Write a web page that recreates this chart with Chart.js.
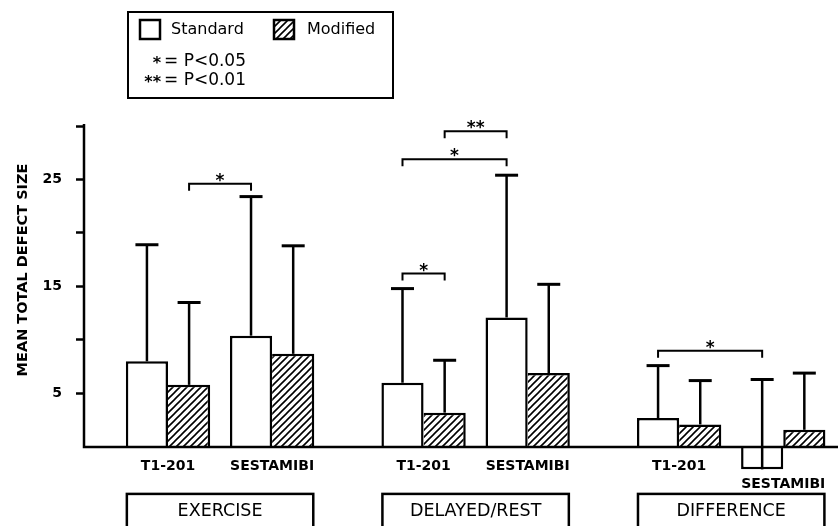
<!DOCTYPE html>
<html>
<head>
<meta charset="utf-8">
<script src="https://cdn.jsdelivr.net/npm/chart.js@4.4.1/dist/chart.umd.min.js"></script>
<style>
  html, body { margin: 0; padding: 0; background: #fff; }
  #wrap { position: relative; width: 838px; height: 526px; }
</style>
</head>
<body>
<div id="wrap"><canvas id="chart"></canvas></div>
<script>
// Groups and agents along the x axis
const GROUPS = ['EXERCISE', 'DELAYED/REST', 'DIFFERENCE'];
const AGENTS = ['T1-201', 'SESTAMIBI'];
const SERIES = ['Standard', 'Modified'];

// Mean total defect size (+ SD), order: EX T1, EX SESTA, DR T1, DR SESTA, DIFF T1, DIFF SESTA
const STANDARD_MEAN = [8.0, 10.4, 6.0, 12.1, 2.7, -2.1];
const STANDARD_SD   = [10.9, 13.0, 8.8, 13.3, 4.9, 8.4];
const MODIFIED_MEAN = [5.8, 8.7, 3.2, 6.9, 2.1, 1.6];
const MODIFIED_SD   = [7.7, 10.1, 4.9, 8.3, 4.1, 5.3];

// Y axis ticks
const Y_TICKS = [0, 5, 10, 15, 20, 25, 30];
const Y_TICK_LABELS = ['', '5', '', '15', '', '25', ''];

// Significance brackets; bars within a group: 0 T1 std, 1 T1 mod, 2 SESTA std, 3 SESTA mod
const SIG_GROUP = [0, 1, 1, 1, 2];
const SIG_FROM  = [1, 0, 0, 1, 0];
const SIG_TO    = [2, 1, 2, 2, 2];
const SIG_LEVEL = [24.6, 16.2, 26.9, 29.5, 9.0];
const SIG_LABEL = ['*', '*', '*', '**', '*'];

// Key for the significance marks
const P_STARS = ['*', '**'];
const P_TEXT  = ['= P<0.05', '= P<0.01'];

// ---- layout helpers ----
const GROUP_STEP = 2.455;               // spacing between group starts, in pair units
const X_MIN = -0.807, X_MAX = 6.436;
const xPos = i => Math.floor(i / 2) * GROUP_STEP + (i % 2);

const FONT = 'DejaVu Sans';

function makeHatch() {
  const s = 7;
  const c = document.createElement('canvas');
  c.width = s; c.height = s;
  const g = c.getContext('2d');
  g.fillStyle = '#fff';
  g.fillRect(0, 0, s, s);
  g.strokeStyle = '#000';
  g.lineWidth = 1.6;
  g.beginPath();
  g.moveTo(-1, s + 1); g.lineTo(s + 1, -1);
  g.moveTo(-1, 1); g.lineTo(1, -1);
  g.moveTo(s - 1, s + 1); g.lineTo(s + 1, s - 1);
  g.stroke();
  return g.createPattern(c, 'repeat');
}
const HATCH = makeHatch();

const decor = {
  id: 'decor',
  afterDatasetsDraw(chart) {
    const { ctx, chartArea, scales: { y } } = chart;
    const y0 = y.getPixelForValue(0);
    ctx.save();
    ctx.strokeStyle = '#000';
    ctx.lineCap = 'butt';

    // error bars
    [[STANDARD_MEAN, STANDARD_SD], [MODIFIED_MEAN, MODIFIED_SD]].forEach(([m, sd], d) => {
      const meta = chart.getDatasetMeta(d);
      meta.data.forEach((el, i) => {
        const yb = y.getPixelForValue(m[i]);
        const yt = y.getPixelForValue(m[i] + sd[i]);
        ctx.lineWidth = 2.5;
        ctx.beginPath();
        ctx.moveTo(el.x, yb);
        ctx.lineTo(el.x, yt);
        ctx.stroke();
        ctx.lineWidth = 3;
        ctx.beginPath();
        ctx.moveTo(el.x - 11.5, yt);
        ctx.lineTo(el.x + 11.5, yt);
        ctx.stroke();
      });
    });

    // baseline and vertical axis
    ctx.lineWidth = 2.5;
    ctx.beginPath();
    ctx.moveTo(chartArea.left - 1.25, y0);
    ctx.lineTo(chart.width, y0);
    ctx.moveTo(chartArea.left, y0);
    ctx.lineTo(chartArea.left, y.getPixelForValue(30) - 2);
    ctx.stroke();
    ctx.restore();
  },
  afterDraw(chart) {
    const { ctx, scales: { x, y } } = chart;
    const y0 = y.getPixelForValue(0);
    const stdMeta = chart.getDatasetMeta(0);
    const modMeta = chart.getDatasetMeta(1);
    const barAt = (g, k) => {
      const i = g * 2 + (k >= 2 ? 1 : 0);
      return (k % 2 === 0 ? stdMeta : modMeta).data[i];
    };
    ctx.save();
    ctx.fillStyle = '#000';
    ctx.strokeStyle = '#000';

    // significance brackets
    SIG_GROUP.forEach((g, s) => {
      const xa = barAt(g, SIG_FROM[s]).x;
      const xb = barAt(g, SIG_TO[s]).x;
      const yl = y.getPixelForValue(SIG_LEVEL[s]);
      ctx.lineWidth = 2;
      ctx.beginPath();
      ctx.moveTo(xa, yl + 7);
      ctx.lineTo(xa, yl);
      ctx.lineTo(xb, yl);
      ctx.lineTo(xb, yl + 7);
      ctx.stroke();
      ctx.font = `bold 17px ${FONT}`;
      ctx.textAlign = 'center';
      ctx.textBaseline = 'alphabetic';
      ctx.fillText(SIG_LABEL[s], (xa + xb) / 2, yl + 2);
    });

    // agent labels under each pair
    ctx.font = `bold 14px ${FONT}`;
    ctx.textAlign = 'center';
    ctx.textBaseline = 'middle';
    STANDARD_MEAN.forEach((v, i) => {
      const cx = x.getPixelForValue(xPos(i));
      const low = Math.min(v, MODIFIED_MEAN[i]);
      const ly = low < 0 ? y.getPixelForValue(low) + 15 : y0 + 19;
      ctx.fillText(AGENTS[i % 2], cx, ly);
    });

    // group boxes
    GROUPS.forEach((name, g) => {
      const first = stdMeta.data[g * 2];
      const last = modMeta.data[g * 2 + 1];
      const left = first.x - first.width / 2 + 1;
      const right = last.x + last.width / 2 - 1;
      const top = y0 + 47;
      ctx.lineWidth = 2.5;
      ctx.strokeRect(left, top, right - left, 60);
      ctx.font = `17.5px ${FONT}`;
      ctx.textAlign = 'center';
      ctx.textBaseline = 'middle';
      ctx.fillText(name, (left + right) / 2, top + 18);
    });

    // y axis title
    ctx.save();
    ctx.translate(23, 270);
    ctx.rotate(-Math.PI / 2);
    ctx.font = `bold 14.5px ${FONT}`;
    ctx.textAlign = 'center';
    ctx.textBaseline = 'middle';
    ctx.fillText('MEAN TOTAL DEFECT SIZE', 0, 0);
    ctx.restore();

    // key
    ctx.lineWidth = 2;
    ctx.strokeRect(128, 12, 265, 86);
    ctx.lineWidth = 2.5;
    ctx.fillStyle = '#fff';
    ctx.fillRect(140, 20, 20, 19);
    ctx.strokeRect(140, 20, 20, 19);
    ctx.fillStyle = HATCH;
    ctx.fillRect(274, 20, 20, 19);
    ctx.strokeRect(274, 20, 20, 19);
    ctx.fillStyle = '#000';
    ctx.font = `16px ${FONT}`;
    ctx.textAlign = 'left';
    ctx.textBaseline = 'middle';
    ctx.fillText(SERIES[0], 171, 30);
    ctx.fillText(SERIES[1], 307, 30);
    P_STARS.forEach((st, k) => {
      const ly = 62 + k * 19;
      ctx.font = `bold 16px ${FONT}`;
      ctx.textAlign = 'right';
      ctx.textBaseline = 'alphabetic';
      ctx.fillText(st, 161, ly + 6);
      ctx.font = `17px ${FONT}`;
      ctx.textAlign = 'left';
      ctx.textBaseline = 'middle';
      ctx.fillText(P_TEXT[k], 164, ly);
    });
    ctx.restore();
  }
};

const modBorder = c => {
  const i = c.dataIndex;
  const s = STANDARD_MEAN[i], m = MODIFIED_MEAN[i];
  const shared = s > 0 && s >= m;
  return { top: 2.5, right: 2.5, bottom: 2.5, left: shared ? 0 : 2.5 };
};

new Chart(document.getElementById('chart'), {
  type: 'bar',
  data: {
    datasets: [
      {
        label: SERIES[0],
        data: STANDARD_MEAN.map((v, i) => ({ x: xPos(i), y: v })),
        backgroundColor: '#fff',
        borderColor: '#000',
        borderWidth: 2.5
      },
      {
        label: SERIES[1],
        data: MODIFIED_MEAN.map((v, i) => ({ x: xPos(i), y: v })),
        backgroundColor: HATCH,
        borderColor: '#000',
        borderWidth: modBorder
      }
    ]
  },
  options: {
    responsive: true,
    maintainAspectRatio: false,
    animation: false,
    devicePixelRatio: 1,
    layout: { padding: { top: 126, bottom: 47, left: 0, right: 0 } },
    datasets: { bar: { categoryPercentage: 0.81, barPercentage: 1 } },
    plugins: { legend: { display: false }, tooltip: { enabled: false } },
    scales: {
      x: {
        type: 'linear',
        min: X_MIN,
        max: X_MAX,
        offset: false,
        display: false,
        afterBuildTicks: s => { s.ticks = STANDARD_MEAN.map((_, i) => ({ value: xPos(i) })); }
      },
      y: {
        min: -3,
        max: 30,
        afterBuildTicks: s => { s.ticks = Y_TICKS.map(v => ({ value: v })); },
        afterFit: s => { s.width = 84; },
        border: { display: false },
        grid: {
          drawOnChartArea: false,
          drawTicks: true,
          tickLength: 8,
          tickWidth: 2.5,
          tickColor: c => (c.tick && c.tick.value === 0) ? 'rgba(0,0,0,0)' : '#000'
        },
        ticks: {
          padding: 14,
          color: '#000',
          font: { family: FONT, size: 14, weight: 'bold' },
          callback: v => { const k = Y_TICKS.indexOf(v); return k >= 0 ? Y_TICK_LABELS[k] : ''; }
        }
      }
    }
  },
  plugins: [decor]
});
</script>
</body>
</html>
